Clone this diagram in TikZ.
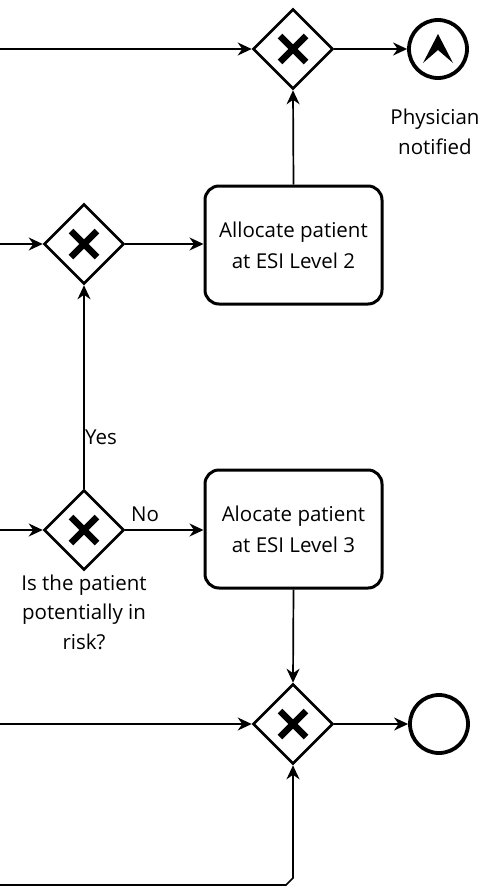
\documentclass[tikz,border=0pt]{standalone}
\usepackage{fontspec}
\setmainfont{Open Sans}
\usetikzlibrary{shapes.geometric,arrows.meta}
\begin{document}
\begin{tikzpicture}[x=1pt,y=-1pt,
  flow/.style={line width=1.7pt,-{Stealth[length=14pt,width=13pt,inset=4.5pt]}},
  xgate/.style={diamond,draw,line width=2.6pt,minimum width=80pt,minimum height=80pt,inner sep=0pt,
    path picture={\draw[line width=6.5pt] ([shift={(-13pt,-13pt)}]path picture bounding box.center) -- ([shift={(13pt,13pt)}]path picture bounding box.center)
      ([shift={(-13pt,13pt)}]path picture bounding box.center) -- ([shift={(13pt,-13pt)}]path picture bounding box.center);}},
  endev/.style={circle,draw,line width=3.8pt,minimum size=58pt,inner sep=0pt},
  task/.style={rectangle,rounded corners=14pt,draw,line width=3pt,minimum width=177pt,minimum height=118pt,align=center,font=\fontsize{20.5}{31}\selectfont},
  lbl/.style={font=\fontsize{20.5}{29.5}\selectfont,align=center,inner sep=0pt}
]
\useasboundingbox (0,0) rectangle (483,886);

% gateways, tasks and end events
\node[xgate] (g1) at (293,49) {};
\node[endev] (e1) at (438,49) {};
\node[xgate] (g2) at (84,244) {};
\node[task] (t2) at (293.5,245) {Allocate patient\\at ESI Level 2};
\node[xgate] (g3) at (84,530) {};
\node[task] (t3) at (293.5,529) {Alocate patient\\at ESI Level 3};
\node[xgate] (g4) at (293,724) {};
\node[endev] (e2) at (439,724) {};

% chevron glyph inside the escalation end event
\fill ([shift={(0pt,15pt)}]e1.center) -- ([shift={(15pt,-14pt)}]e1.center)
  -- ([shift={(0pt,-1pt)}]e1.center) -- ([shift={(-15pt,-14pt)}]e1.center) -- cycle;

% incoming flows from the left edge
\coordinate (in1) at (0,49);
\coordinate (in2) at (0,244);
\coordinate (in3) at (0,530);
\coordinate (in4) at (0,724);
\coordinate (in5) at (0,885);
\coordinate (b1) at (286,885);
\coordinate (b2) at (293,878);

\draw[flow] (in1) -- (g1.west);
\draw[flow] (in2) -- (g2.west);
\draw[flow] (in3) -- (g3.west);
\draw[flow] (in4) -- (g4.west);
\draw[flow] (in5) -- (b1) -- (b2) -- (g4.south);

% sequence flows
\draw[flow] (g1.east) -- (e1.west);
\draw[flow] (t2.north) -- (g1.south);
\draw[flow] (g2.east) -- (t2.west |- g2.east);
\draw[flow] (g3.north) -- (g2.south);
\draw[flow] (g3.east) -- (t3.west |- g3.east);
\draw[flow] (t3.south) -- (g4.north);
\draw[flow] (g4.east) -- (e2.west);

% labels
\node[lbl] (yes) at (101,437) {Yes};
\node[lbl] (no) at (145,514) {No};
\node[lbl] (phys) at (435,132) {Physician\\notified};
\node[lbl] (risk) at (84,612) {Is the patient\\potentially in\\risk?};
\end{tikzpicture}
\end{document}
